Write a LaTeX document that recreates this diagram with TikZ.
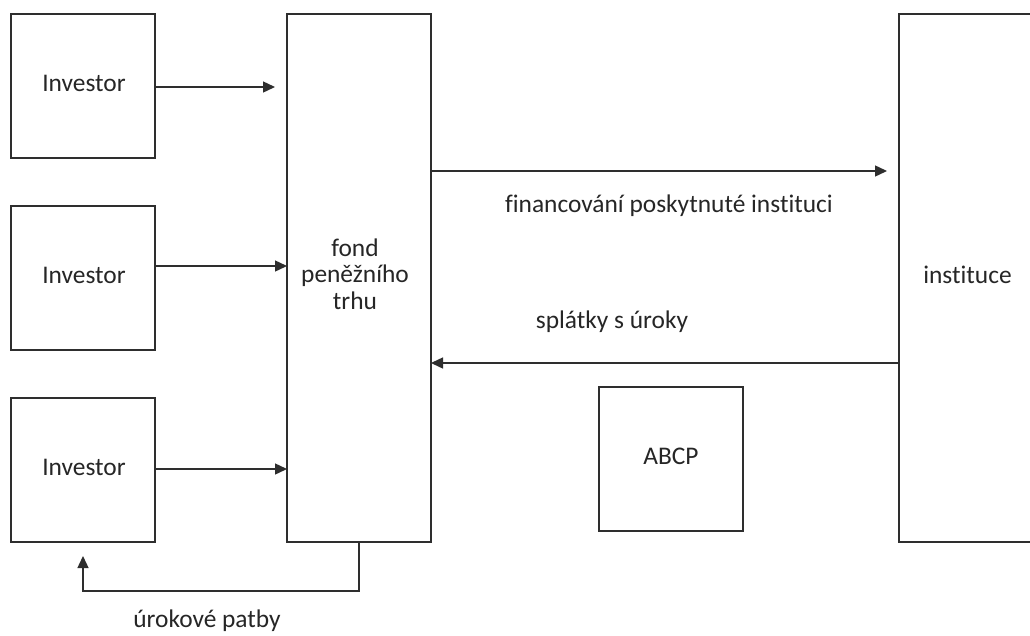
\documentclass[tikz,border=0pt]{standalone}
\usepackage{fontspec}
\setmainfont{Carlito}[Ligatures=NoCommon]
\usetikzlibrary{arrows.meta}
\definecolor{ink}{HTML}{2E2E2E}
\definecolor{txt}{HTML}{262626}
\begin{document}
\begin{tikzpicture}[x=1pt,y=-1pt,
  every node/.style={font=\fontsize{25.4}{26.5}\selectfont, text=txt},
  block/.style={draw=ink, line width=1.4pt, inner sep=0pt, outer sep=0pt, fill=white},
  lbl/.style={anchor=base, inner sep=0pt},
  flow/.style={draw=ink, line width=1.4pt, -{Triangle[length=12pt,width=11pt]}}]
  % page frame
  \clip (0,0) rectangle (1030,635);
  \fill[white] (0,0) rectangle (1030,635);

  % boxes
  \node[block, minimum width=144pt, minimum height=144pt] (inv1) at (83,86) {};
  \node[block, minimum width=144pt, minimum height=144pt] (inv2) at (83,278) {};
  \node[block, minimum width=144pt, minimum height=144pt] (inv3) at (83,470) {};
  \node[block, minimum width=144pt, minimum height=528pt] (fond) at (359,278) {};
  \node[block, minimum width=144pt, minimum height=528pt] (inst) at (971,278) {};
  \node[block, minimum width=144pt, minimum height=144pt] (abcp) at (671,459) {};

  % box texts
  \node[lbl] (tinv1) at (84,91) {Investor};
  \node[lbl] (tinv2) at (84,283) {Investor};
  \node[lbl] (tinv3) at (84,475) {Investor};
  \node[inner sep=0pt, align=center] (tfond) at (355,274) {fond\\peněžního\\trhu};
  \node[lbl] (tinst) at (967.5,283) {instituce};
  \node[lbl] (tabcp) at (671,464) {ABCP};

  % heights of the horizontal flows
  \coordinate (yfin) at (0,171);
  \coordinate (yret) at (0,363);

  % investors into the fund
  \draw[flow, shorten >=12pt] ([yshift=-1pt]inv1.east) -- ([yshift=-1pt]inv1.east -| fond.west);
  \draw[flow] ([yshift=12pt]inv2.east) -- ([yshift=12pt]inv2.east -| fond.west);
  \draw[flow] ([yshift=1pt]inv3.east) -- ([yshift=1pt]inv3.east -| fond.west);

  % fund and institution
  \draw[flow, shorten >=12pt] (fond.east |- yfin) -- (inst.west |- yfin);
  \draw[flow] (inst.west |- yret) -- (fond.east |- yret);

  % interest paid back to the investors
  \draw[flow, shorten >=14pt] (fond.south) -- ++(0,49) -| (inv3.south);

  % flow labels
  \node[lbl] (lfin) at (669,212) {financování poskytnuté instituci};
  \node[lbl] (lret) at (612,328) {splátky s úroky};
  \node[lbl] (lint) at (207,627) {úrokové patby};
\end{tikzpicture}
\end{document}
